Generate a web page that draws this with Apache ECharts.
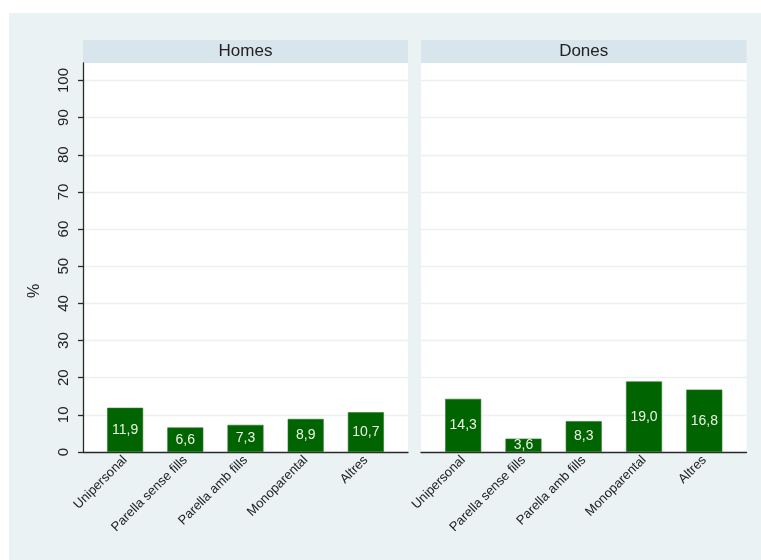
<!DOCTYPE html>
<html>
<head>
<meta charset="utf-8">
<script src="https://cdn.jsdelivr.net/npm/echarts@6/dist/echarts.min.js"></script>
<style>html,body{margin:0;padding:0;background:#fff}#c{width:761px;height:560px}</style>
</head>
<body>
<div id="c"></div>
<script>
const categories = ['Unipersonal', 'Parella sense fills', 'Parella amb fills', 'Monoparental', 'Altres'];
const panelTitles = ['Homes', 'Dones'];
const homesValues = [11.9, 6.6, 7.3, 8.9, 10.7];
const donesValues = [14.3, 3.6, 8.3, 19.0, 16.8];
const yTicks = [0, 10, 20, 30, 40, 50, 60, 70, 80, 90, 100];
const yLabel = '%';

const FONT = '"Liberation Sans", Arial, sans-serif';
const BAR = '#006400';
const GRIDLINE = '#eaf2f3';
const AXIS = '#2a2a2a';

const chart = echarts.init(document.getElementById('c'), null, {renderer: 'canvas'});

const grids = [
  {left: 83, right: 353, top: 63, bottom: 108},
  {left: 421, right: 14.5, top: 63, bottom: 108}
];

function xAxisFor(i) {
  return {
    type: 'value', gridIndex: i, min: -0.7, max: 4.7,
    axisLine: {show: true, onZero: false, lineStyle: {color: AXIS, width: 1.3}},
    axisTick: {show: false},
    splitLine: {show: false},
    axisLabel: {
      customValues: categories.map((c, k) => k),
      formatter: v => categories[v] || '',
      rotate: 45, margin: 6, fontSize: 13, color: '#222', fontFamily: FONT
    }
  };
}
function yAxisFor(i) {
  const left = i === 0;
  return {
    type: 'value', gridIndex: i, min: 0, max: 104.7,
    axisLine: {show: left, onZero: false, lineStyle: {color: AXIS, width: 1.3}},
    axisTick: {show: left, customValues: yTicks, length: 5, lineStyle: {color: AXIS, width: 1.3}},
    axisLabel: {show: left, customValues: yTicks, rotate: 90, margin: 12, fontSize: 15, color: '#222', fontFamily: FONT},
    splitLine: {show: true, lineStyle: {color: GRIDLINE, width: 1.3}}
  };
}
function seriesFor(i, values) {
  return {
    type: 'bar', xAxisIndex: i, yAxisIndex: i,
    data: values.map((v, k) => [k, v]),
    barWidth: 36,
    itemStyle: {color: BAR, borderColor: '#2c7a2c', borderWidth: 0.6},
    label: {
      show: true, position: 'inside', color: '#eef2e6', fontSize: 14, fontFamily: FONT,
      formatter: p => p.value[1].toFixed(1).replace('.', ',')
    }
  };
}

const option = {
  backgroundColor: '#ffffff',
  animation: false,
  graphic: [
    {type: 'rect', z: -10, shape: {x: 9, y: 13, width: 752, height: 547}, style: {fill: '#eaf2f3'}},
    {type: 'rect', z: -5, shape: {x: 83, y: 40, width: 325, height: 23}, style: {fill: '#d9e5ec'}},
    {type: 'rect', z: -5, shape: {x: 421, y: 40, width: 325.5, height: 23}, style: {fill: '#d9e5ec'}},
    {type: 'text', x: 245.5, y: 51.5, style: {text: panelTitles[0], fill: '#222', font: '17px ' + FONT, textAlign: 'center', textVerticalAlign: 'middle'}},
    {type: 'text', x: 583.7, y: 51.5, style: {text: panelTitles[1], fill: '#222', font: '17px ' + FONT, textAlign: 'center', textVerticalAlign: 'middle'}},
    {type: 'text', x: 35, y: 291, rotation: Math.PI / 2, style: {text: yLabel, fill: '#222', font: '16px ' + FONT, textAlign: 'center', textVerticalAlign: 'middle'}}
  ],
  grid: grids.map(g => Object.assign({show: true, backgroundColor: '#ffffff', borderWidth: 0}, g)),
  xAxis: [xAxisFor(0), xAxisFor(1)],
  yAxis: [yAxisFor(0), yAxisFor(1)],
  series: [seriesFor(0, homesValues), seriesFor(1, donesValues)]
};
chart.setOption(option);
</script>
</body>
</html>
